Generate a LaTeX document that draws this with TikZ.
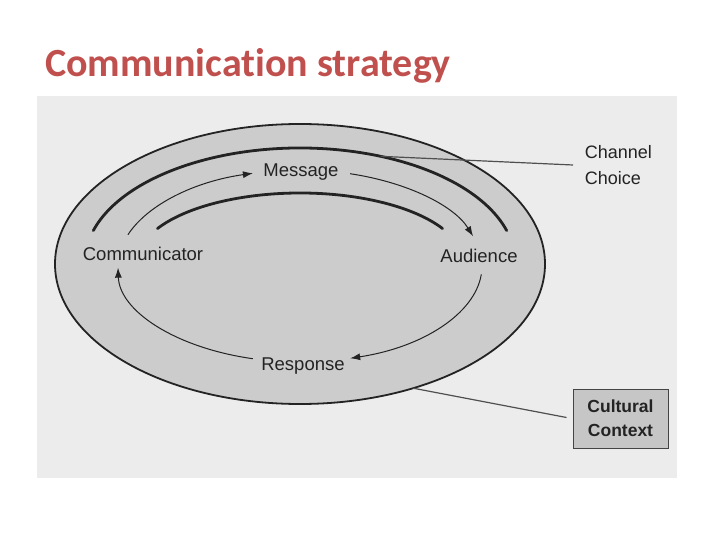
\documentclass[tikz,border=0pt]{standalone}
\usepackage{fontspec}
\setmainfont{Liberation Sans}
\newfontfamily\titlefont[Ligatures=NoCommon]{Carlito}
\usepackage{xcolor}
\usetikzlibrary{arrows.meta}
\definecolor{titlered}{RGB}{192,80,77}
\definecolor{scangray}{RGB}{236,236,236}
\definecolor{ringgray}{RGB}{204,204,204}
\definecolor{boxgray}{RGB}{198,198,198}
\definecolor{inkgray}{RGB}{35,35,35}
\tikzset{
  flow/.style={color=inkgray, line width=1pt, -{Latex[length=10pt,width=7pt]}},
  band/.style={color=inkgray, line width=2.8pt, line cap=round},
  pointer/.style={color=inkgray!80, line width=1.2pt},
  lbl/.style={inner sep=0.75pt, text height=13pt, text depth=4pt, text=inkgray, font=\fontsize{18.5}{25}\selectfont},
}

\begin{document}
\begin{tikzpicture}[x=1pt,y=1pt,yscale=-1,xscale=1]
        \useasboundingbox (0,0) rectangle (720,540);
        % Text Node
        \draw (45,77) node [anchor=base west][inner sep=0pt, text=titlered, font=\titlefont\bfseries\fontsize{40}{48}\selectfont] (title) {Communication strategy};
        %Shape: Rectangle
        \fill [scangray] (37,96) rectangle (677,478);
        %Shape: Ellipse
        \coordinate (ring) at (300,264);
        \draw [color=inkgray, line width=1.8pt, fill=ringgray] (ring) ellipse [x radius=245, y radius=140];
        \coordinate (band) at (300,262);
        \coordinate (loop) at (300,266);
        %Curve Lines
        \draw [band] ([shift={(-164:215 and 114)}]band) arc [start angle=-164, end angle=-16, x radius=215, y radius=114];
        \draw [band] ([shift={(-151:163 and 69)}]band) arc [start angle=-151, end angle=-29, x radius=163, y radius=69];

        % Text Node
        \draw (301,172.5) node [lbl] (msg) {Message};
        % Text Node
        \draw (143,255.5) node [lbl] (comm) {Communicator};
        % Text Node
        \draw (479,257.5) node [lbl] (aud) {Audience};
        % Text Node
        \draw (303,365.5) node [lbl] (resp) {Response};

        %Curve Lines
        \draw [flow] ([shift={(-161:182 and 96)}]loop) arc [start angle=-161, end angle=-105, x radius=182, y radius=96];
        \draw [flow] ([shift={(-74:182 and 96)}]loop) arc [start angle=-74, end angle=-18, x radius=182, y radius=96];
        \draw [flow] ([shift={(5:182 and 96)}]loop) arc [start angle=5, end angle=74, x radius=182, y radius=96];
        \draw [flow] ([shift={(105:182 and 96)}]loop) arc [start angle=105, end angle=179, x radius=182, y radius=96];

        % Text Node
        \draw (584,165) node [anchor=west][lbl, align=left, text height=, text depth=, font=\fontsize{18}{26}\selectfont] (chan) {Channel\\Choice};
        % Text Node
        \draw (620.5,418.5) node [draw=inkgray!85, fill=boxgray, line width=1pt, minimum width=95, minimum height=59, inner sep=0pt, align=center, text=inkgray, font=\bfseries\fontsize{17.5}{24}\selectfont] (cult) {Cultural\\Context};

        %Straight Lines
        \draw [pointer] ([shift={(-68:215 and 114)}]band) -- ([xshift=-11pt]chan.west);
        %Straight Lines
        \draw [pointer] ([shift={(62.5:245 and 140)}]ring) -- ([xshift=-6pt, yshift=-1pt]cult.west);
\end{tikzpicture}
\end{document}
